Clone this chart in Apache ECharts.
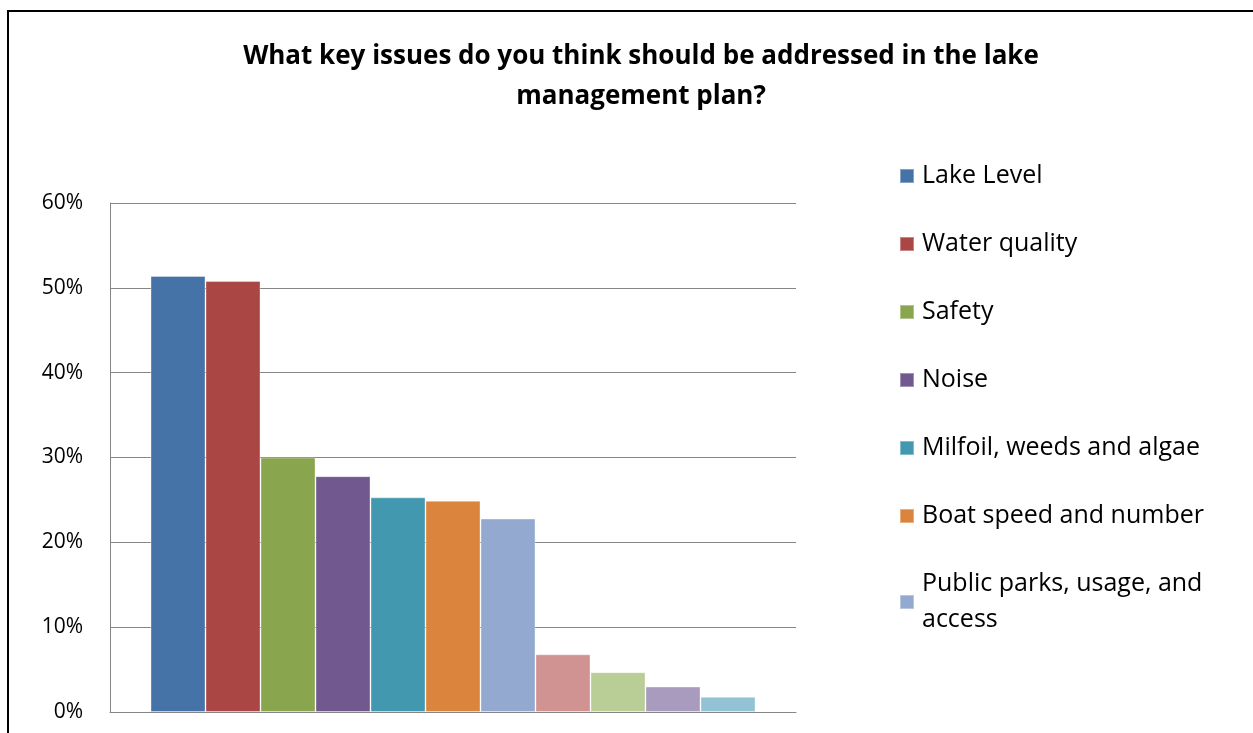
<!DOCTYPE html>
<html>
<head>
<meta charset="utf-8">
<script src="https://cdn.jsdelivr.net/npm/echarts@6/dist/echarts.min.js"></script>
<style>
html,body{margin:0;padding:0;background:#fff;}
#chart{width:1253px;height:733px;}
</style>
</head>
<body>
<div id="chart"></div>
<script>
const titleText = "What key issues do you think should be addressed in the lake\nmanagement plan?";
const seriesNames = [
  "Lake Level", "Water quality", "Safety", "Noise",
  "Milfoil, weeds and algae", "Boat speed and number",
  "Public parks, usage, and\naccess",
  "Series 8", "Series 9", "Series 10", "Series 11"
];
const legendShown = seriesNames.slice(0, 7);
const seriesValues = [51.4, 50.8, 30.0, 27.8, 25.3, 24.9, 22.8, 6.8, 4.7, 3.0, 1.8];
const seriesColors = ["#4572A7", "#AA4643", "#89A54E", "#71588F", "#4198AF", "#DB843D",
                      "#93A9CF", "#D19392", "#B9CD96", "#A99BBD", "#91C3D5"];
const yTicks = [0, 10, 20, 30, 40, 50, 60];

const FONT = "'Open Sans', sans-serif";
const chart = echarts.init(document.getElementById('chart'), null, {renderer: 'canvas'});

const series = seriesNames.map((name, i) => ({
  name: name,
  type: 'bar',
  data: [seriesValues[i]],
  barWidth: 55,
  barGap: '0%',
  itemStyle: {color: seriesColors[i], borderColor: 'rgba(255,255,255,0.35)', borderWidth: 1},
  emphasis: {disabled: true}
}));

chart.setOption({
  animation: false,
  backgroundColor: '#ffffff',
  color: seriesColors,
  title: {
    text: titleText,
    left: 636,
    textAlign: 'center',
    top: 32,
    textStyle: {fontFamily: FONT, fontSize: 26, fontWeight: 'bold', color: '#000', lineHeight: 40}
  },
  legend: {
    data: legendShown,
    orient: 'vertical',
    left: 894,
    top: 153,
    icon: 'rect',
    itemWidth: 14,
    itemHeight: 14,
    itemGap: 32,
    textStyle: {fontFamily: FONT, fontSize: 25, color: '#000', lineHeight: 36, padding: [0, 0, 0, 3]},
    selectedMode: false
  },
  graphic: [{
    type: 'polyline',
    shape: {points: [[8, 740], [8, 11], [1260, 11]]},
    style: {stroke: '#000', lineWidth: 2, fill: null}
  }],
  grid: {left: 110, top: 203, right: 457, bottom: 21, containLabel: false},
  xAxis: {
    type: 'category',
    data: [''],
    axisLine: {show: true, lineStyle: {color: '#868686', width: 1}},
    axisTick: {show: false},
    axisLabel: {show: false}
  },
  yAxis: {
    type: 'value',
    min: yTicks[0],
    max: yTicks[yTicks.length - 1],
    interval: 10,
    axisLine: {show: true, lineStyle: {color: '#868686', width: 1}},
    axisTick: {show: false},
    splitLine: {show: true, lineStyle: {color: '#868686', width: 1}},
    axisLabel: {
      margin: 27,
      fontFamily: FONT,
      fontSize: 21,
      color: '#000',
      formatter: v => v + '%'
    }
  },
  series: series
});
</script>
</body>
</html>
